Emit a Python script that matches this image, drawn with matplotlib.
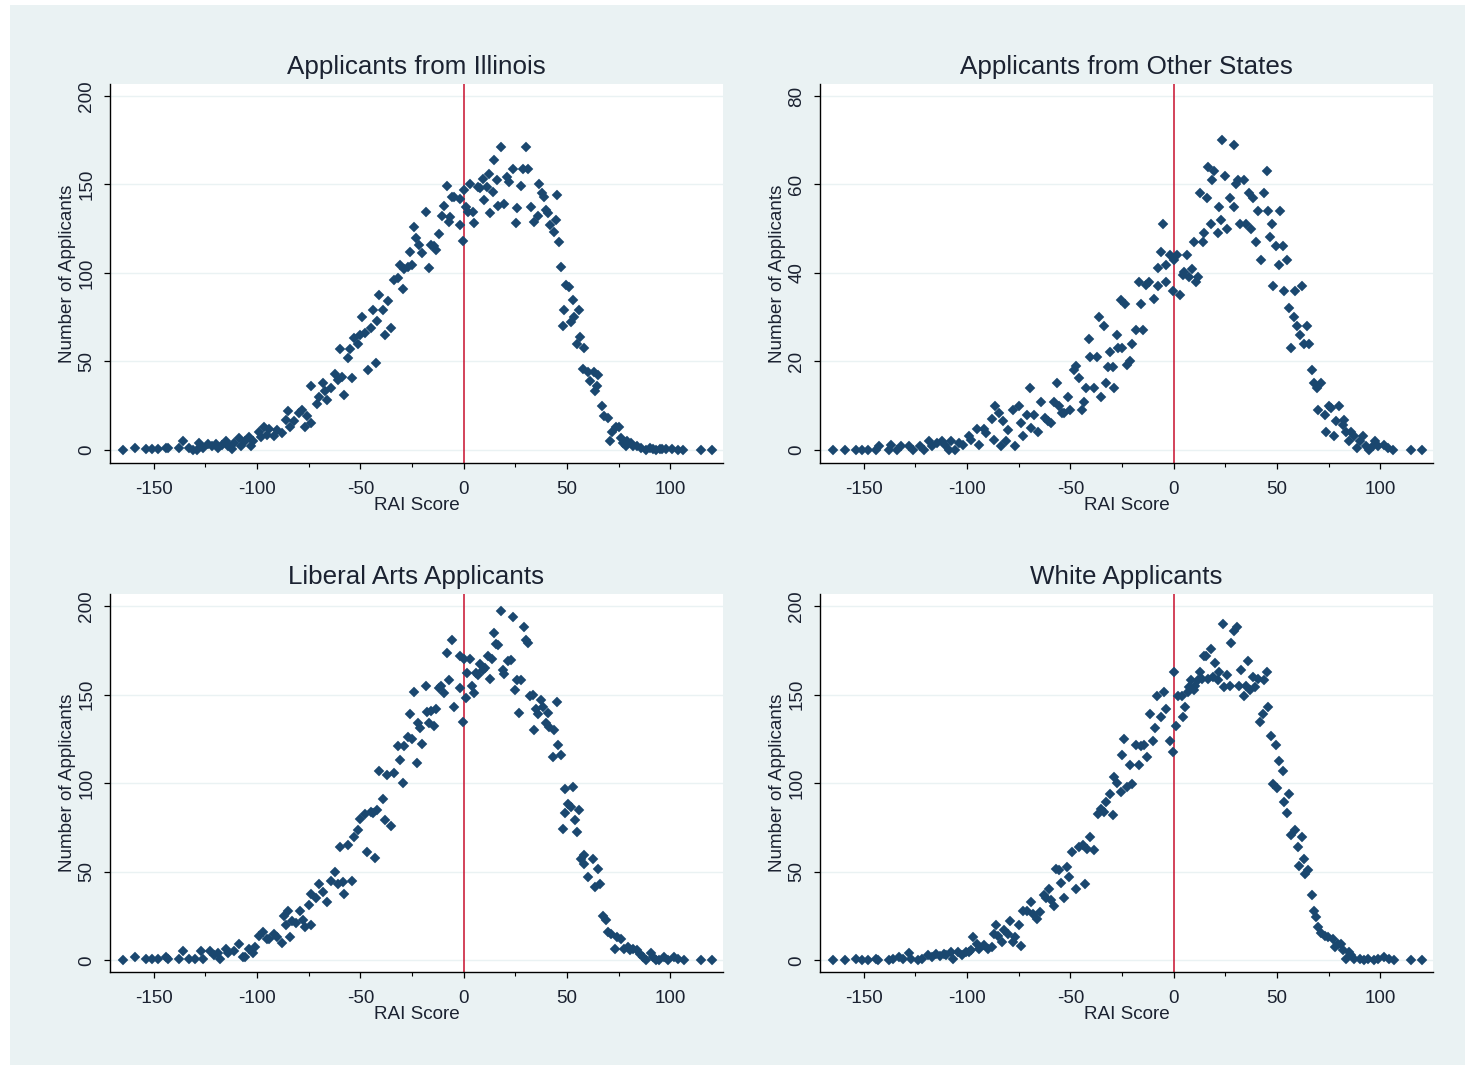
import matplotlib
matplotlib.use("Agg")
import matplotlib.pyplot as plt
from matplotlib.patches import Rectangle
from matplotlib.ticker import FixedLocator

# ---- data: (RAI score, number of applicants) ----
illinois = [
    (-165, 0), (-159, 1), (-154, 0.5), (-151, 0.5), (-148, 0.5), (-144, 1), (-143, 1), (-138, 1),
    (-136, 5), (-133, 1), (-131, 0), (-129, 0), (-128, 4), (-126, 1), (-124, 3), (-122, 2),
    (-120, 3), (-119, 1), (-117, 2.5), (-115, 5), (-114, 2), (-112, 0.5), (-111, 4), (-109, 6.6),
    (-108, 2), (-106, 5), (-104, 7), (-103, 2), (-102, 5), (-99, 10), (-98, 7), (-96.5, 13),
    (-95, 8.5), (-94, 12), (-92, 7.5), (-90.5, 11), (-88, 9.4), (-86, 17), (-85, 22), (-84, 13),
    (-82, 16), (-79.5, 21), (-78.5, 22.6), (-77, 13), (-76, 19), (-74, 15), (-73.7, 36), (-71, 26),
    (-70, 30), (-68, 38), (-67, 33), (-66, 28), (-64, 35), (-62.5, 43), (-61, 39.5), (-60, 57),
    (-59, 41), (-58, 31), (-56, 52), (-55, 57), (-54, 40.5), (-53, 63), (-51, 60), (-50, 65),
    (-49, 75), (-48, 66), (-46.5, 45), (-45, 69), (-44, 79), (-42.5, 49), (-42, 73), (-41, 87.6),
    (-39, 79), (-38, 65), (-36.5, 84), (-35, 69), (-33.7, 96), (-32, 97), (-31, 104.5), (-29.6, 91),
    (-29, 102), (-27, 103.6), (-26, 112), (-25, 104.5), (-24, 126), (-23, 119.6), (-21.6, 116),
    (-20, 111), (-18.4, 134.6), (-17, 102.6), (-16, 116), (-14.4, 115), (-13.6, 113), (-12, 122),
    (-10.4, 132), (-9.6, 138), (-8, 149), (-7.2, 129), (-6.4, 131.5), (-5.6, 143),
    (-4.5, 143), (-2, 142), (-2, 127), (-0.5, 118), (0, 147), (1.1, 137.5), (2, 134.6), (3.2, 150),
    (4.4, 134.6), (5.2, 128.4), (6.8, 148.8), (8, 148), (9.2, 153), (10, 141), (11.3, 148.8),
    (12.4, 156), (12.9, 134), (14, 146), (14.8, 164), (16, 152.5), (16.8, 138), (18, 171),
    (19.7, 139), (21, 154), (22, 151.6), (23.7, 158.6), (25.3, 128), (26, 136.5), (27.7, 149),
    (28.5, 159), (30, 171), (31, 159), (32.6, 137.5), (34, 129), (35.8, 132), (36.6, 150), (38, 145),
    (39, 143), (40, 135.6), (41, 133.7), (42, 127), (43.5, 123), (44.7, 130), (45, 144),
    (46, 117.7), (47, 103.6), (48, 69.7), (48.7, 79), (49.5, 93), (51, 92), (52, 72.5),
    (52.7, 84.7), (53.5, 75), (55, 60), (56, 79), (56.5, 64), (57.6, 45.6), (58.4, 57.4), (60, 44),
    (61, 38.6), (63, 43.7), (63.5, 33), (64.5, 36), (65, 42), (66.8, 25), (68, 19), (69.7, 18),
    (71, 4.7), (72, 9.8), (73.7, 13), (75, 13), (76, 6.6), (77, 3.8), (78.5, 1.9), (79, 4.7),
    (81, 3.8), (82, 1.9), (84, 1.9), (86, 0.9), (88, 0), (90, 1), (91.5, 0.4), (93, 0), (95, 0.4),
    (96, 0.4), (98, 0.4), (101, 0.4), (103.5, 0), (106, 0), (115, 0), (120, 0),
]

other_states = [
    (-165, 0), (-159, 0), (-154, 0), (-151, 0), (-148, 0), (-144, 0), (-142.6, 0.75), (-138, 0),
    (-137, 1), (-134, 0), (-132, 0.75), (-128, 0.75), (-126, 0), (-123, 0.75), (-121, 0),
    (-118.6, 1.9), (-117, 0.75), (-114.6, 1.5), (-112, 1.9), (-110.6, 1.1), (-109, 0), (-108, 1.9),
    (-106, 0), (-104, 1.5), (-102, 1), (-99, 3), (-98, 2.3), (-95, 4.7), (-94, 1.1), (-92, 4.7),
    (-91, 3.8), (-88, 6.9), (-87, 2.3), (-86.5, 10), (-84.6, 8.3), (-83.7, 0.75), (-82.5, 6.4),
    (-81, 1.9), (-80, 4.5), (-77.7, 9), (-76.6, 0.75), (-75, 10), (-73.7, 6), (-73, 3), (-71, 7.9),
    (-69.7, 14), (-69, 4.9), (-67.6, 7.9), (-65.7, 3.9), (-64.4, 10.9), (-62.5, 7.2), (-61, 6.4),
    (-59.3, 6), (-58, 10.9), (-56.4, 15), (-55.3, 9.8), (-54, 8.3), (-53, 8.3), (-51.3, 12),
    (-50, 9), (-48.4, 18), (-47.3, 19), (-45.7, 16.2), (-44.5, 9), (-43.6, 10.9), (-42.5, 14),
    (-40.9, 25), (-40.4, 21), (-38.5, 14), (-37.2, 21), (-36, 30), (-35, 12), (-33.7, 28),
    (-32.9, 15), (-32, 18.8), (-30.8, 22), (-29.6, 18.8), (-29, 14), (-27.5, 26), (-26.8, 23),
    (-25.6, 33.9), (-25, 23), (-23.7, 33), (-22.4, 19.2), (-21, 20), (-20, 24), (-18.4, 27),
    (-17, 38), (-16, 33), (-15, 27), (-13.6, 37.3), (-12, 38),
    (-9.4, 34), (-7.7, 37), (-7.4, 41), (-6, 44.8), (-5.3, 51), (-3.7, 41.8), (-3.7, 38), (-2, 44),
    (-0.5, 36), (0, 43), (1.6, 44), (3.2, 35), (4.4, 39.5), (5.2, 40.3), (6.5, 44), (7.6, 39),
    (8.7, 40.8), (10, 47), (10.8, 38), (11.6, 39), (12.9, 58), (14, 47), (14.8, 49), (16, 57),
    (16.5, 64), (18, 51), (18.5, 61), (19.7, 63), (21.3, 49), (22, 55), (23, 52), (23.4, 70),
    (24.8, 62), (25.8, 50), (27.4, 57), (29, 69), (29.4, 55), (30.2, 60), (31.3, 61), (32.3, 51),
    (34.2, 61), (35, 51), (36.6, 58), (37.4, 50), (38.2, 57), (39.8, 47), (40.6, 54), (42.3, 43),
    (43.9, 58), (45, 63), (45.5, 54), (46.8, 48), (47.4, 51), (48, 37), (49.5, 46), (51, 41.8),
    (51.6, 54), (52.7, 46), (53.5, 36), (54.8, 43), (56, 32), (56.8, 23), (58, 30), (58.7, 36),
    (59.7, 27.9), (61, 26), (62, 37), (63, 24), (64.5, 27.9), (65.6, 24), (66.8, 18), (68, 15),
    (69.2, 14), (69.7, 9), (71.3, 15), (73, 7.9), (73.7, 3.9), (75.3, 10), (76, 9.4), (77.7, 3),
    (78.5, 6.4), (80, 10), (81.8, 5.6), (82.6, 6.8), (83.4, 3.9), (85, 1.9), (85.8, 4.1),
    (87.4, 3), (88.7, 0.4), (90.3, 1.9), (91.5, 3), (93, 0.75), (94.7, 0), (96.3, 0.75),
    (97.4, 1.9), (98.7, 0.75), (102, 1.1), (103.5, 0.4), (106, 0), (115, 0), (120, 0),
]

liberal_arts = [
    (-165, 0), (-159, 2), (-154, 1), (-151, 1), (-148, 1), (-144, 2), (-143, 1), (-138, 1),
    (-136, 5), (-133, 1), (-130, 1), (-127, 5), (-126, 1), (-123, 5), (-121, 3), (-119, 4),
    (-118, 1), (-115, 6.6), (-114, 4), (-111, 5), (-109, 9), (-107, 2), (-106, 2), (-104, 6.6),
    (-102, 4), (-101, 7.5), (-99, 14), (-97, 16), (-95, 12), (-94, 12), (-92, 15), (-90.5, 13),
    (-88, 10), (-87, 25), (-86, 20), (-85, 28), (-84, 13), (-83, 22), (-81, 21), (-79, 28),
    (-78, 22.6), (-77, 19), (-75, 31), (-74, 20), (-73.7, 37.7), (-71.5, 35), (-70, 43),
    (-68, 38.6), (-66, 33), (-64, 45), (-62.5, 50), (-61, 43), (-60, 63.7), (-58.5, 44),
    (-58, 37.7), (-56, 65), (-54, 45), (-53, 69.7), (-51, 73.4), (-50, 80), (-48, 82.5), (-47, 61),
    (-45, 83.8), (-44, 83), (-43, 58), (-42, 84.7), (-41, 107), (-39, 91), (-38, 79), (-37, 104.5),
    (-35, 76), (-33.7, 106), (-32, 121), (-31, 113), (-29.6, 100), (-29, 121), (-27, 126),
    (-26, 139), (-25, 125), (-24, 151.6), (-22.4, 111.5), (-22, 133.7), (-21, 131), (-20, 122),
    (-18.4, 155), (-18, 140), (-17, 133.7), (-16, 141), (-14.4, 132), (-13.6, 142), (-12, 154),
    (-11, 155), (-9.6, 150.7), (-8, 173.6), (-7.2, 158), (-5.6, 181),
    (-4.5, 143), (-2, 172), (-2, 154), (-0.5, 134.6), (0, 170), (1.1, 148), (1.6, 162), (3.2, 170),
    (3.9, 155), (5.2, 151), (6, 162), (7, 161), (8, 167), (9.2, 164), (10.3, 165), (11.6, 172),
    (12.9, 158.6), (13.5, 170), (14.5, 185), (15.6, 178.5), (16.5, 178), (18, 197), (19, 164),
    (19.7, 161.6), (21.3, 169), (23, 169.5), (23.7, 194), (24.8, 152.5), (26, 158), (27, 139.7),
    (27.7, 158), (29, 188), (30, 181), (31, 179), (32.3, 149), (33.4, 149.7), (34.2, 130),
    (35, 142), (35.8, 139), (37.4, 147), (38.2, 143), (39.8, 133.7), (40.6, 139.7), (41.5, 131.8),
    (43, 115), (43.9, 130), (45, 146), (45.5, 121.5), (47, 116), (48, 74), (49, 96.6), (49, 83),
    (50.3, 88.5), (52, 86.6), (52.7, 98), (54, 79), (54.8, 72.5), (56, 84.7), (56.8, 57.4),
    (58, 54.6), (58.4, 59.3), (60, 47), (62.4, 57.4), (63.5, 41.4), (65, 51.8), (66, 43),
    (67.3, 25), (68.9, 22.6), (69.7, 16), (71.3, 15), (73, 6.6), (74, 13), (76, 12), (77.7, 6.6),
    (79.4, 7.5), (80.6, 5.6), (82, 6.6), (84, 5.6), (85.5, 3.8), (86.6, 1.9), (88, 0), (90.6, 4),
    (91.5, 1.9), (93, 0.4), (94.7, 0), (96.8, 1.9), (98.7, 0.4), (101.6, 1.9), (103.5, 1),
    (106.5, 0), (115, 0), (120, 0),
]

white = [
    (-165, 0), (-159, 0), (-154, 1), (-151, 0.4), (-148, 0.4), (-144, 1), (-143, 0.4), (-138, 0.4),
    (-136, 1), (-133, 2), (-131, 1), (-128, 4), (-127, 1), (-124, 0.4), (-122, 1), (-119, 3),
    (-117, 2), (-115, 3.4), (-113, 2.3), (-111, 3.8), (-110, 3), (-108, 4.7), (-106.6, 1),
    (-104.5, 4.7), (-102.6, 3), (-100.6, 4.7), (-99, 4.7), (-98, 5.6), (-97, 13), (-95, 9.4),
    (-94, 6.6), (-92, 8.5), (-90, 6.6), (-88, 7.5), (-87, 15), (-86, 19.8), (-85, 14),
    (-83.3, 10.4), (-82, 17), (-80, 15), (-79, 22), (-77.7, 10.4), (-77, 13), (-75, 19.8),
    (-73.7, 8), (-73, 28), (-71, 28), (-69, 33), (-68, 26), (-66.3, 23.5), (-64.7, 27),
    (-63, 36.7), (-61.7, 35), (-60.6, 40.5), (-59.3, 34), (-58, 30.5), (-57, 51.8), (-55.3, 50.8),
    (-54.5, 43.7), (-53, 35), (-51.6, 52.7), (-50.5, 47), (-49, 61), (-47.3, 40), (-45.7, 64),
    (-44, 65), (-43, 43), (-42, 63), (-40.4, 69.7), (-38.5, 62), (-36.5, 82.5), (-35, 85.7),
    (-33.7, 83.8), (-33, 89.5), (-31, 93.8), (-29.6, 82), (-29, 103.6), (-27.6, 100), (-25.6, 95),
    (-25, 116), (-24, 125), (-22.4, 98), (-21, 110), (-20, 99.8), (-18.4, 121.5), (-17, 110),
    (-16, 121), (-14.4, 121.5), (-12.8, 115), (-11.5, 139),
    (-10, 124), (-9, 131), (-8, 149), (-6, 137.5), (-4.8, 151.6), (-3.7, 142), (-2, 124),
    (-0.5, 117.7), (0, 163), (1.1, 132), (2.3, 149), (3.9, 149), (4.4, 137.5), (5.5, 143),
    (6.8, 151.6), (7.6, 154.4), (8.4, 158), (9.7, 152.5), (10.3, 155), (11.6, 158), (12.9, 163),
    (13.5, 158.6), (14.5, 172), (15.6, 172), (16.8, 158.6), (18, 175.5), (19, 159.7), (20, 167.6),
    (21.3, 158), (22, 163), (23.7, 190), (24.5, 154.4), (26, 161), (27.4, 155), (27.7, 179),
    (29.4, 186), (30.6, 188), (31.8, 154.8), (32.6, 163.8), (34.2, 149), (35, 155), (36, 169),
    (37, 152.5), (38.2, 159.7), (39.4, 154.4), (40.6, 159), (42, 134.6), (43, 139), (43.9, 158),
    (45, 163), (45.8, 143), (47, 126.7), (48, 99.8), (49.5, 121.5), (50, 97.5), (51, 112.6),
    (52.7, 107), (53.5, 89.5), (54.8, 83), (56, 94), (56.8, 70.6), (58.7, 73.8), (60, 64),
    (60.8, 53), (62, 69.7), (63, 57.4), (63.5, 49), (65, 50.8), (66.8, 36.7), (67.7, 27.9),
    (68.9, 24.5), (69.7, 18.8), (71.3, 15.4), (73, 14), (74.5, 13), (77, 12), (78, 7.5), (79.4, 9.4),
    (81, 9), (82, 5.6), (83.4, 1), (85, 4.7), (85.8, 2.8), (87.4, 1), (90, 1), (92.3, 0.4), (94, 1),
    (96.8, 0), (98.7, 1), (101.6, 1.9), (104, 1), (106.5, 0), (115, 0), (120, 0),
]

titles = ["Applicants from Illinois", "Applicants from Other States",
          "Liberal Arts Applicants", "White Applicants"]
x_ticks = [-150, -100, -50, 0, 50, 100]
x_minor = [-125, -75, -25, 25, 75]
y_ticks_200 = [0, 50, 100, 150, 200]
y_ticks_80 = [0, 20, 40, 60, 80]
cutoff = 0

# ---- styling ----
plt.rcParams['font.family'] = ['Liberation Sans', 'DejaVu Sans']
plt.rcParams['axes.unicode_minus'] = False
NAVY = '#1a476f'
TEXT = '#1b2231'
BG = '#eaf2f3'
RED = '#c8102e'

W, H = 1468, 1068
fig = plt.figure(figsize=(W / 100, H / 100), dpi=100, facecolor='white')
# light graph-region panel behind all four plots
fig.add_artist(Rectangle((10 / W, 3 / H), 1455 / W, 1060 / H,
                         transform=fig.transFigure, facecolor=BG,
                         edgecolor='none', zorder=-10))


def px_axes(left, top, right, bottom):
    ax = fig.add_axes([left / W, 1 - bottom / H, (right - left) / W, (bottom - top) / H])
    ax.set_zorder(1)
    return ax


panels = [
    (px_axes(110, 84, 723, 463), illinois, titles[0], y_ticks_200, (-7.5, 206.8)),
    (px_axes(820, 84, 1433, 463), other_states, titles[1], y_ticks_80, (-3.0, 82.7)),
    (px_axes(110, 594, 723, 972), liberal_arts, titles[2], y_ticks_200, (-6.6, 206.8)),
    (px_axes(820, 594, 1433, 972), white, titles[3], y_ticks_200, (-6.6, 206.8)),
]

for ax, pts, title, yt, ylim in panels:
    xs = [p[0] for p in pts]
    ys = [p[1] for p in pts]
    ax.set_facecolor('white')
    ax.set_xlim(-171.2, 125.5)
    ax.set_ylim(*ylim)
    ax.set_yticks(yt)
    ax.set_xticks(x_ticks)
    ax.xaxis.set_minor_locator(FixedLocator(x_minor))
    ax.grid(axis='y', which='major', color=BG, linewidth=1.0, zorder=0)
    ax.set_axisbelow(True)
    for side in ('top', 'right'):
        ax.spines[side].set_visible(False)
    for side in ('left', 'bottom'):
        ax.spines[side].set_color('black')
        ax.spines[side].set_linewidth(1.0)

    ax.axvline(cutoff, color=RED, linewidth=1.1, zorder=2)
    ax.plot(xs, ys, linestyle='none', marker='D', markersize=5.2,
            markerfacecolor=NAVY, markeredgecolor=NAVY, markeredgewidth=0.3, zorder=3)

    ax.tick_params(axis='both', which='major', direction='out', length=4.5, width=0.9,
                   color='black', labelsize=13.6, labelcolor=TEXT)
    ax.tick_params(axis='x', which='major', pad=8.5)
    ax.tick_params(axis='y', which='major', pad=6)
    ax.tick_params(axis='x', which='minor', direction='out', length=2.8, width=0.8, color='black')
    for lbl in ax.get_yticklabels():
        lbl.set_rotation(90)
        lbl.set_va('center')

    ax.set_xlabel('RAI Score', fontsize=13.6, color=TEXT, labelpad=-0.5)
    ax.set_ylabel('Number of Applicants', fontsize=13.6, color=TEXT, labelpad=1.5)
    ax.set_title(title, fontsize=18.7, color=TEXT, pad=7)

fig.savefig('out.png', dpi=100, facecolor='white')
